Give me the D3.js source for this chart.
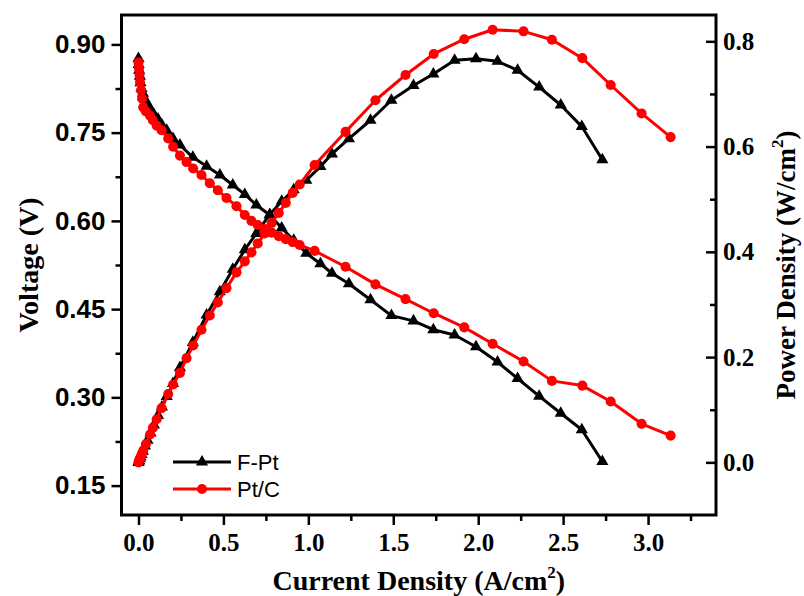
<!DOCTYPE html>
<html>
<head>
<meta charset="utf-8">
<script src="https://cdn.jsdelivr.net/npm/d3@7"></script>
<style>
  html, body { margin: 0; padding: 0; background: #fff; }
  svg { display: block; }
</style>
</head>
<body>
<div id="chart"></div>
<script>
// ---- Data ----
const seriesNames = ["F-Pt", "Pt/C"];
const seriesColors = ["#000000", "#ff0000"];

const fptCurrent = [0.000,0.001,0.004,0.008,0.012,0.018,0.026,0.038,0.053,0.071,0.091,0.115,0.138,0.166,0.203,0.244,0.320,0.401,0.479,0.555,0.626,0.694,0.773,0.843,0.914,0.988,1.071,1.139,1.239,1.366,1.489,1.619,1.736,1.861,1.987,2.114,2.232,2.359,2.486,2.610,2.731];
const fptVoltage = [0.876,0.866,0.856,0.846,0.835,0.825,0.817,0.807,0.798,0.790,0.781,0.773,0.763,0.754,0.740,0.729,0.708,0.693,0.678,0.661,0.645,0.627,0.610,0.588,0.567,0.545,0.527,0.511,0.493,0.466,0.439,0.430,0.415,0.406,0.386,0.360,0.332,0.302,0.273,0.245,0.191];
const fptPower   = [0.000,0.001,0.003,0.007,0.010,0.015,0.021,0.031,0.042,0.056,0.071,0.089,0.105,0.125,0.150,0.180,0.228,0.280,0.324,0.367,0.404,0.435,0.471,0.496,0.518,0.536,0.562,0.586,0.615,0.650,0.688,0.716,0.738,0.764,0.767,0.762,0.745,0.713,0.679,0.638,0.575];

const ptcCurrent = [0.000,0.003,0.006,0.009,0.015,0.021,0.028,0.044,0.068,0.085,0.107,0.136,0.175,0.204,0.244,0.283,0.322,0.371,0.420,0.467,0.518,0.577,0.626,0.665,0.702,0.743,0.784,0.826,0.867,0.908,0.949,1.037,1.219,1.395,1.572,1.738,1.918,2.085,2.267,2.434,2.613,2.780,2.962,3.133];
const ptcVoltage = [0.869,0.859,0.848,0.836,0.822,0.808,0.793,0.786,0.779,0.771,0.762,0.754,0.740,0.726,0.711,0.700,0.689,0.678,0.664,0.652,0.639,0.625,0.610,0.600,0.593,0.586,0.580,0.574,0.569,0.564,0.559,0.549,0.522,0.492,0.467,0.443,0.419,0.391,0.361,0.328,0.320,0.293,0.255,0.235];
const ptcPower   = [0.000,0.003,0.005,0.008,0.012,0.017,0.022,0.035,0.053,0.066,0.082,0.103,0.130,0.148,0.170,0.198,0.222,0.252,0.279,0.304,0.331,0.361,0.382,0.399,0.416,0.435,0.455,0.474,0.493,0.512,0.528,0.565,0.628,0.688,0.736,0.776,0.804,0.822,0.819,0.803,0.768,0.717,0.663,0.618];

const xMajorTicks = [0.0, 0.5, 1.0, 1.5, 2.0, 2.5, 3.0];
const xMinorTicks = [0.25, 0.75, 1.25, 1.75, 2.25, 2.75, 3.25];
const yLeftMajorTicks = [0.15, 0.30, 0.45, 0.60, 0.75, 0.90];
const yLeftMinorTicks = [0.225, 0.375, 0.525, 0.675, 0.825];
const yRightMajorTicks = [0.0, 0.2, 0.4, 0.6, 0.8];
const yRightMinorTicks = [0.1, 0.3, 0.5, 0.7];

// ---- Layout ----
const W = 804, H = 596;
const L = 121.5, R = 716, T = 15, B = 515;

const svg = d3.select("#chart").append("svg")
  .attr("width", W).attr("height", H)
  .attr("viewBox", `0 0 ${W} ${H}`);
svg.append("rect").attr("width", W).attr("height", H).attr("fill", "#fff");

const x = d3.scaleLinear().domain([-0.1, 3.4]).range([L, R]);
const yL = d3.scaleLinear().domain([0.10, 0.95]).range([B, T]);
const yR = d3.scaleLinear().domain([-0.1, 0.85]).range([B, T]);

const serif = "'Liberation Serif','Times New Roman',serif";
const sans = "'Liberation Sans',Arial,sans-serif";

// ---- Axes ----
function styleAxis(g, font, size) {
  g.select(".domain").remove();
  g.selectAll(".tick line").attr("stroke", "#000").attr("stroke-width", 2.5);
  g.selectAll(".tick text").attr("fill", "#000")
    .style("font-family", font).style("font-weight", "bold").style("font-size", size + "px");
}

// bottom
svg.append("g").attr("transform", `translate(0,${B})`)
  .call(d3.axisBottom(x).tickValues(xMajorTicks).tickSize(10).tickPadding(8).tickFormat(d3.format(".1f")))
  .call(g => styleAxis(g, serif, 25));
svg.append("g").attr("transform", `translate(0,${B})`)
  .call(d3.axisBottom(x).tickValues(xMinorTicks).tickSize(6).tickFormat(""))
  .call(g => styleAxis(g, serif, 25));

// left
svg.append("g").attr("transform", `translate(${L},0)`)
  .call(d3.axisLeft(yL).tickValues(yLeftMajorTicks).tickSize(10).tickPadding(6).tickFormat(d3.format(".2f")))
  .call(g => styleAxis(g, sans, 26));
svg.append("g").attr("transform", `translate(${L},0)`)
  .call(d3.axisLeft(yL).tickValues(yLeftMinorTicks).tickSize(6).tickFormat(""))
  .call(g => styleAxis(g, sans, 26));

// right (ticks point inward)
svg.append("g").attr("transform", `translate(${R},0)`)
  .call(d3.axisRight(yR).tickValues(yRightMajorTicks).tickSize(-10).tickPadding(7).tickFormat(d3.format(".1f")))
  .call(g => styleAxis(g, serif, 25));
svg.append("g").attr("transform", `translate(${R},0)`)
  .call(d3.axisRight(yR).tickValues(yRightMinorTicks).tickSize(-6).tickFormat(""))
  .call(g => styleAxis(g, serif, 25));

// frame
svg.append("rect").attr("x", L).attr("y", T).attr("width", R - L).attr("height", B - T)
  .attr("fill", "none").attr("stroke", "#000").attr("stroke-width", 3);

// ---- Series ----
const tri = d3.symbol().type(d3.symbolTriangle).size(64);
const circ = d3.symbol().type(d3.symbolCircle).size(80);

function drawSeries(cur, vals, yScale, color, symbol) {
  const pts = cur.map((c, i) => [c, vals[i]]);
  const line = d3.line().x(d => x(d[0])).y(d => yScale(d[1]));
  svg.append("path").datum(pts).attr("d", line)
    .attr("fill", "none").attr("stroke", color).attr("stroke-width", 3).attr("stroke-linejoin", "round");
  svg.append("g").selectAll("path").data(pts).join("path")
    .attr("d", symbol)
    .attr("transform", d => `translate(${x(d[0])},${yScale(d[1])})`)
    .attr("fill", color);
}

drawSeries(fptCurrent, fptVoltage, yL, seriesColors[0], tri);
drawSeries(fptCurrent, fptPower, yR, seriesColors[0], tri);
drawSeries(ptcCurrent, ptcVoltage, yL, seriesColors[1], circ);
drawSeries(ptcCurrent, ptcPower, yR, seriesColors[1], circ);

// ---- Legend ----
const legend = svg.append("g");
[0, 1].forEach(i => {
  const ly = 462 + i * 27;
  legend.append("line").attr("x1", 173).attr("x2", 231).attr("y1", ly).attr("y2", ly)
    .attr("stroke", seriesColors[i]).attr("stroke-width", 3);
  legend.append("path").attr("d", i === 0 ? tri() : circ())
    .attr("transform", `translate(202,${ly})`).attr("fill", seriesColors[i]);
  legend.append("text").attr("x", 237).attr("y", ly + 8)
    .style("font-family", sans).style("font-size", "22px").attr("fill", "#000")
    .text(seriesNames[i]);
});

// ---- Axis titles ----
const xt = svg.append("text").attr("x", (L + R) / 2).attr("y", 590).attr("text-anchor", "middle")
  .style("font-family", serif).style("font-weight", "bold").style("font-size", "28px").attr("fill", "#000");
xt.append("tspan").text("Current Density (A/cm");
xt.append("tspan").attr("dy", -12).style("font-size", "17px").text("2");
xt.append("tspan").attr("dy", 12).text(")");

svg.append("text").attr("transform", `translate(38,${(T + B) / 2}) rotate(-90)`).attr("text-anchor", "middle")
  .style("font-family", serif).style("font-weight", "bold").style("font-size", "28px").attr("fill", "#000")
  .text("Voltage (V)");

const yt = svg.append("text").attr("transform", `translate(795,${(T + B) / 2}) rotate(-90)`).attr("text-anchor", "middle")
  .style("font-family", serif).style("font-weight", "bold").style("font-size", "27px").attr("fill", "#000");
yt.append("tspan").text("Power Density (W/cm");
yt.append("tspan").attr("dy", -12).style("font-size", "17px").text("2");
yt.append("tspan").attr("dy", 12).text(")");
</script>
</body>
</html>
